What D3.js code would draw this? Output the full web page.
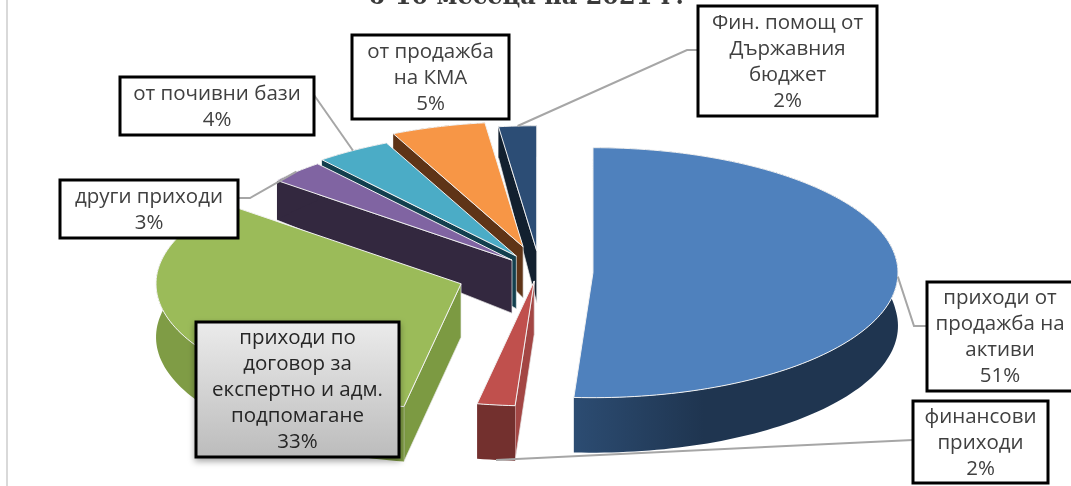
<!DOCTYPE html>
<html>
<head>
<meta charset="utf-8">
<script src="https://cdn.jsdelivr.net/npm/d3@7"></script>
<style>
  html, body { margin: 0; padding: 0; background: #fff; }
  svg { display: block; filter: blur(0.5px); }
  text { font-family: "Open Sans", sans-serif; }
</style>
</head>
<body>
<svg id="chart"></svg>
<script>
const categories = [
  ["приходи от", "продажба на", "активи"],
  ["финансови", "приходи"],
  ["приходи по", "договор за", "експертно и адм.", "подпомагане"],
  ["други приходи"],
  ["от почивни бази"],
  ["от продажба", "на КМА"],
  ["Фин. помощ от", "Държавния", "бюджет"]
];
const values = [51, 2, 33, 3, 4, 5, 2];

const topColors = ["#4f81bd", "#c0504d", "#9bbb59", "#8064a2", "#4bacc6", "#f79646", "#2c4d75"];
const wallColors = ["#1f3550", "#a34644", "#7c9a42", "#33283f", "#123f4e", "#5f3417", "#12202f"];
const rimColors = ["url(#blueRim)", "#73302e", "#7f9c45", "#33283f", "#123f4e", "#5f3417", "#12202f"];

// how far each slice is pulled out of the pie
const explosion = [52, 22, 85, 41, 46, 64, 52];
// extra sideways push, the source picture is not quite a true projection
const sideways = [0, -4, 0, 0, 0, 0, -1];

const width = 1071, height = 486;
const center = { x: 541, y: 272 };
const rx = 305, ry = 125;

// label boxes: x, y, w, h, then the elbow of the leader line
const boxes = [
  { x: 927, y: 282, w: 160, h: 109, leader: [[927, 326], [914, 326]] },
  { x: 913, y: 401, w: 135, h: 82, leader: [[913, 440]] },
  { x: 196, y: 322, w: 203, h: 135, gradient: true, leader: [] },
  { x: 60, y: 180, w: 178, h: 58, leader: [[238, 198], [250, 198]] },
  { x: 120, y: 77, w: 194, h: 58, leader: [[314, 95]] },
  { x: 352, y: 35, w: 157, h: 84, leader: [] },
  { x: 698, y: 6, w: 179, h: 110, leader: [[698, 50], [687, 50]] }
];

const svg = d3.select("#chart").attr("width", width).attr("height", height);

const defs = svg.append("defs");
const blueRim = defs.append("linearGradient").attr("id", "blueRim");
blueRim.append("stop").attr("offset", "0").attr("stop-color", "#2c4c72");
blueRim.append("stop").attr("offset", "0.4").attr("stop-color", "#1f3550");
blueRim.append("stop").attr("offset", "1").attr("stop-color", "#1f3550");

const boxFill = defs.append("linearGradient").attr("id", "boxFill").attr("x2", 0).attr("y2", 1);
boxFill.append("stop").attr("offset", "0").attr("stop-color", "#ebebeb");
boxFill.append("stop").attr("offset", "1").attr("stop-color", "#bcbcbc");

const shadow = defs.append("filter").attr("id", "boxShadow")
    .attr("x", "-10%").attr("y", "-10%").attr("width", "120%").attr("height", "125%");
shadow.append("feDropShadow").attr("dx", 0).attr("dy", 3).attr("stdDeviation", 3)
    .attr("flood-color", "#000").attr("flood-opacity", 0.35);

// wall height shrinks towards the back of the pie
const depth = d3.scaleLinear().domain([130, 258, 400]).range([31, 53, 55]).clamp(true);

const slices = d3.pie().sort(null).value(d => d)(values);

slices.forEach((s, i) => {
    const mid = (s.startAngle + s.endAngle) / 2;
    s.apex = {
        x: center.x + explosion[i] * Math.sin(mid) + sideways[i],
        y: center.y - explosion[i] * Math.cos(mid) * ry / rx
    };
});

function rimPoint(s, a) {
    return [s.apex.x + rx * Math.sin(a), s.apex.y - ry * Math.cos(a)];
}

function arcPoints(s) {
    const n = Math.max(4, Math.ceil((s.endAngle - s.startAngle) * 40));
    return d3.range(n + 1).map(k => rimPoint(s, s.startAngle + (s.endAngle - s.startAngle) * k / n));
}

const down = p => [p[0], p[1] + depth(p[1])];
const line = d3.line();

// left border of the picture
svg.append("line")
    .attr("x1", 7).attr("x2", 7)
    .attr("y1", 0).attr("y2", height)
    .attr("stroke", "#d9d9d9")
    .attr("stroke-width", 2);

// title, cut by the top of the picture
svg.append("text")
    .attr("x", 526)
    .attr("y", 4)
    .attr("text-anchor", "middle")
    .attr("font-size", "24px")
    .attr("font-weight", "bold")
    .attr("fill", "#3a3a3a")
    .style("font-family", "'DejaVu Serif', serif")
    .text("6-10 месеца на 2021 г.");

const pieG = svg.append("g");

// painted from the back of the pie to the front
[6, 5, 4, 3, 2, 1, 0].forEach(i => {
    const s = slices[i];
    const arc = arcPoints(s);
    const apex = [s.apex.x, s.apex.y];
    const g = pieG.append("g");

    // only the leading edge wall can be seen from this viewpoint
    if (i > 0) {
        g.append("path")
            .attr("d", line([apex, arc[0], down(arc[0]), down(apex)]) + "Z")
            .attr("fill", wallColors[i])
            .attr("stroke", "#e8e8e8")
            .attr("stroke-width", 0.7);
    }

    g.append("path")
        .attr("d", line(arc.concat(arc.map(down).reverse())) + "Z")
        .attr("fill", rimColors[i]);

    g.append("path")
        .attr("d", line([apex].concat(arc)) + "Z")
        .attr("fill", topColors[i])
        .attr("stroke", "#f2f2f2")
        .attr("stroke-width", 1);
});

// leader lines
slices.forEach((s, i) => {
    const pts = boxes[i].leader;
    if (!pts.length) return;
    const mid = (s.startAngle + s.endAngle) / 2;
    let end = rimPoint(s, mid);
    if (i === 1) end = down(end); // the red slice is picked up at its lower edge
    svg.append("path")
        .attr("d", line(pts.concat([end])))
        .attr("fill", "none")
        .attr("stroke", "#a6a6a6")
        .attr("stroke-width", 2);
});

// label boxes
const lineHeight = 26;
slices.forEach((s, i) => {
    const b = boxes[i];
    const g = svg.append("g");
    g.append("rect")
        .attr("x", b.x).attr("y", b.y)
        .attr("width", b.w).attr("height", b.h)
        .attr("fill", b.gradient ? "url(#boxFill)" : "#fff")
        .attr("stroke", "#000")
        .attr("stroke-width", 3)
        .attr("filter", b.gradient ? "url(#boxShadow)" : null);

    const rows = categories[i].concat([values[i] + "%"]);
    const cx = b.x + (i === 0 ? 73 : b.w / 2);
    const top = b.y + b.h / 2 - rows.length * lineHeight / 2;
    rows.forEach((row, k) => {
        g.append("text")
            .attr("x", cx)
            .attr("y", top + lineHeight * k + 19.5)
            .attr("text-anchor", "middle")
            .attr("font-size", "20.5px")
            .attr("fill", b.gradient ? "#262626" : "#404040")
            .text(row);
    });
});
</script>
</body>
</html>
